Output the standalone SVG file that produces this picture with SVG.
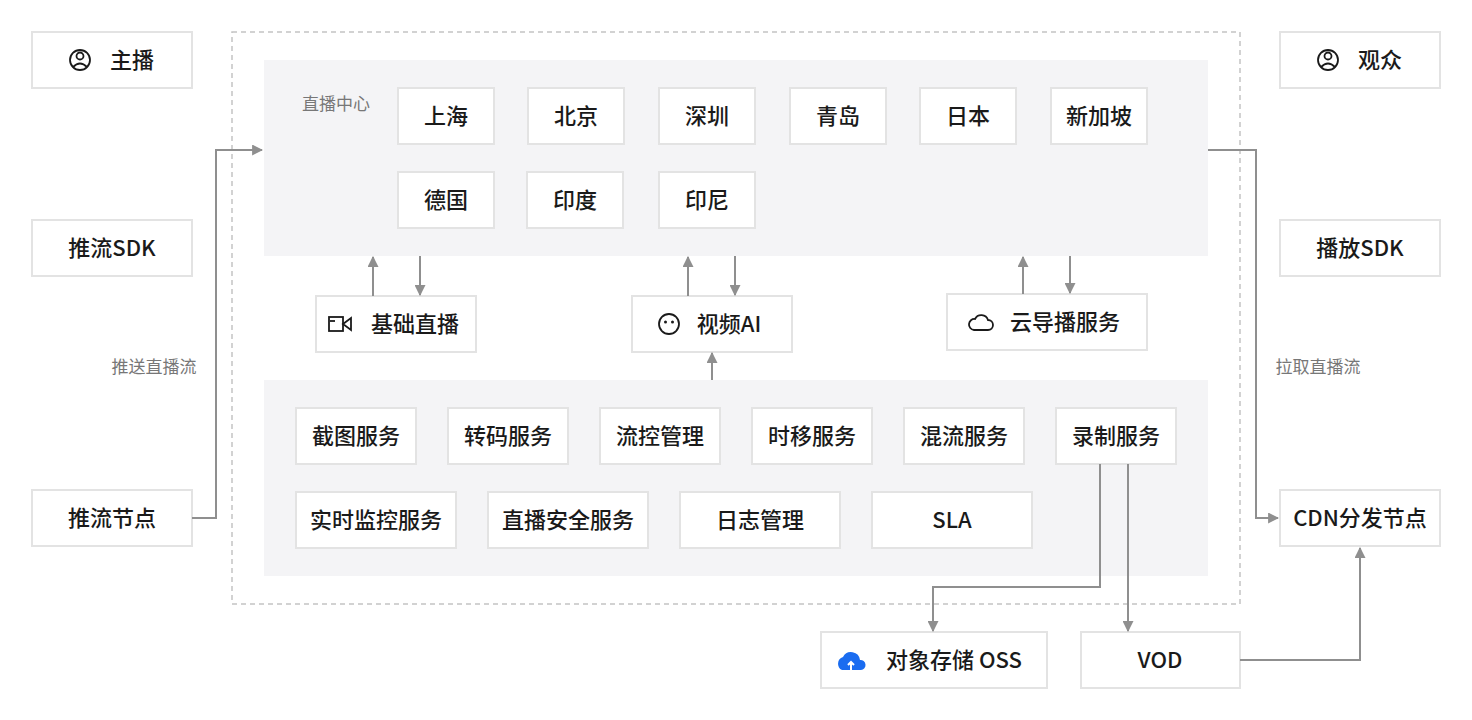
<svg xmlns="http://www.w3.org/2000/svg" width="1472" height="720" viewBox="0 0 1472 720">
<style>
text{font-family:"Noto Sans CJK SC","Liberation Sans",sans-serif;font-size:22px;font-weight:500;fill:#1a1a1a;text-anchor:middle;dominant-baseline:central;transform:translateY(-2px)}
.b{fill:#fff;stroke:#e3e3e3;stroke-width:2}
.p{fill:#f4f4f6}
.l{fill:none;stroke:#8f8f8f;stroke-width:2}
.s{font-size:17px;font-weight:400;fill:#777}
.i{fill:none;stroke:#1a1a1a;stroke-width:1.8}
</style>
<defs><marker id="a" viewBox="0 0 10 10" refX="9" refY="5" markerWidth="5.5" markerHeight="5.5" orient="auto"><path d="M0,0L10,5L0,10z" fill="#8f8f8f"/></marker></defs>
<rect x="232" y="32" width="1008" height="572" fill="none" stroke="#c4c4c4" stroke-width="1.5" stroke-dasharray="5,4"/>
<rect class="p" x="264" y="60" width="944" height="196"/>
<rect class="p" x="264" y="380" width="944" height="196"/>
<text class="s" x="336" y="104">直播中心</text>
<g id="zhubo"><rect class="b" x="32" y="32" width="160" height="56"/><circle class="i" cx="80" cy="60" r="10"/><circle class="i" cx="80" cy="56" r="3.5"/><path class="i" d="M73,67q7,-7 14,0"/><text x="132" y="60">主播</text></g>
<g id="tuiliusdk"><rect class="b" x="32" y="220" width="160" height="56"/><text x="112" y="248">推流SDK</text></g>
<g id="tuiliujiedian"><rect class="b" x="32" y="490" width="160" height="56"/><text x="112" y="518">推流节点</text></g>
<g id="guanzhong"><rect class="b" x="1280" y="32" width="160" height="56"/><circle class="i" cx="1328" cy="60" r="10"/><circle class="i" cx="1328" cy="56" r="3.5"/><path class="i" d="M1321,67q7,-7 14,0"/><text x="1380" y="60">观众</text></g>
<g id="bofangsdk"><rect class="b" x="1280" y="220" width="160" height="56"/><text x="1360" y="248">播放SDK</text></g>
<g id="cdn"><rect class="b" x="1280" y="490" width="160" height="56"/><text x="1360" y="518">CDN分发节点</text></g>
<g id="sh"><rect class="b" x="398" y="88" width="96" height="56"/><text x="446" y="116">上海</text></g>
<g id="bj"><rect class="b" x="528" y="88" width="96" height="56"/><text x="576" y="116">北京</text></g>
<g id="sz"><rect class="b" x="659" y="88" width="96" height="56"/><text x="707" y="116">深圳</text></g>
<g id="qd"><rect class="b" x="790" y="88" width="96" height="56"/><text x="838" y="116">青岛</text></g>
<g id="rb"><rect class="b" x="920" y="88" width="96" height="56"/><text x="968" y="116">日本</text></g>
<g id="xjp"><rect class="b" x="1051" y="88" width="96" height="56"/><text x="1099" y="116">新加坡</text></g>
<g id="dg"><rect class="b" x="398" y="172" width="96" height="56"/><text x="446" y="200">德国</text></g>
<g id="yd"><rect class="b" x="527" y="172" width="96" height="56"/><text x="575" y="200">印度</text></g>
<g id="yn"><rect class="b" x="659" y="172" width="96" height="56"/><text x="707" y="200">印尼</text></g>
<g id="jczb"><rect class="b" x="316" y="296" width="160" height="56"/><rect class="i" x="329" y="317" width="14" height="14"/><path class="i" d="M343,324l8,-6v12z"/><path class="i" d="M330,321h5"/><text x="415" y="324">基础直播</text></g>
<g id="spai"><rect class="b" x="632" y="296" width="160" height="56"/><circle class="i" cx="669" cy="324" r="10"/><circle cx="665.5" cy="322" r="1.5" fill="#1a1a1a"/><circle cx="672.5" cy="322" r="1.5" fill="#1a1a1a"/><text x="729" y="324">视频AI</text></g>
<g id="ydb"><rect class="b" x="947" y="294" width="200" height="56"/><path class="i" d="M974,330h14a5,5 0 0 0 0,-10a7,7 0 0 0 -13,-1a5.5,5.5 0 0 0 -1,11z"/><text x="1065" y="322">云导播服务</text></g>
<g id="jt"><rect class="b" x="296" y="408" width="120" height="56"/><text x="356" y="436">截图服务</text></g>
<g id="zm"><rect class="b" x="448" y="408" width="120" height="56"/><text x="508" y="436">转码服务</text></g>
<g id="lk"><rect class="b" x="600" y="408" width="120" height="56"/><text x="660" y="436">流控管理</text></g>
<g id="sy"><rect class="b" x="752" y="408" width="120" height="56"/><text x="812" y="436">时移服务</text></g>
<g id="hl"><rect class="b" x="904" y="408" width="120" height="56"/><text x="964" y="436">混流服务</text></g>
<g id="lz"><rect class="b" x="1056" y="408" width="120" height="56"/><text x="1116" y="436">录制服务</text></g>
<g id="ssjk"><rect class="b" x="296" y="492" width="160" height="56"/><text x="376" y="520">实时监控服务</text></g>
<g id="aq"><rect class="b" x="488" y="492" width="160" height="56"/><text x="568" y="520">直播安全服务</text></g>
<g id="rz"><rect class="b" x="680" y="492" width="160" height="56"/><text x="760" y="520">日志管理</text></g>
<g id="sla"><rect class="b" x="872" y="492" width="160" height="56"/><text x="952" y="520">SLA</text></g>
<g id="oss"><rect class="b" x="821" y="632" width="226" height="56"/><path d="M842,670a7,7 0 0 1 1,-13a9,9 0 0 1 17,3a5,5 0 0 1 1,10z" fill="#1a6cf0"/><path d="M851,670v-8m-3,3l3,-3l3,3" stroke="#fff" stroke-width="2" fill="none"/><text x="954" y="660">对象存储 OSS</text></g>
<g id="vod"><rect class="b" x="1081" y="632" width="159" height="56"/><text x="1160" y="660">VOD</text></g>
<g id="connectors">
<path class="l" marker-end="url(#a)" d="M192,518H216V150H262"/>
<path class="l" marker-end="url(#a)" d="M1208,150H1256V518H1278"/>
<path class="l" marker-end="url(#a)" d="M373,296V257"/>
<path class="l" marker-end="url(#a)" d="M420,256V295"/>
<path class="l" marker-end="url(#a)" d="M688,296V257"/>
<path class="l" marker-end="url(#a)" d="M735,256V295"/>
<path class="l" marker-end="url(#a)" d="M1023,294V257"/>
<path class="l" marker-end="url(#a)" d="M1070,256V293"/>
<path class="l" marker-end="url(#a)" d="M712,380V353"/>
<path class="l" marker-end="url(#a)" d="M1100,464V587H933V631"/>
<path class="l" marker-end="url(#a)" d="M1128,464V631"/>
<path class="l" marker-end="url(#a)" d="M1240,660H1360V548"/>
<text class="s" x="154" y="367">推送直播流</text>
<text class="s" x="1318" y="367">拉取直播流</text>
</g>
</svg>
